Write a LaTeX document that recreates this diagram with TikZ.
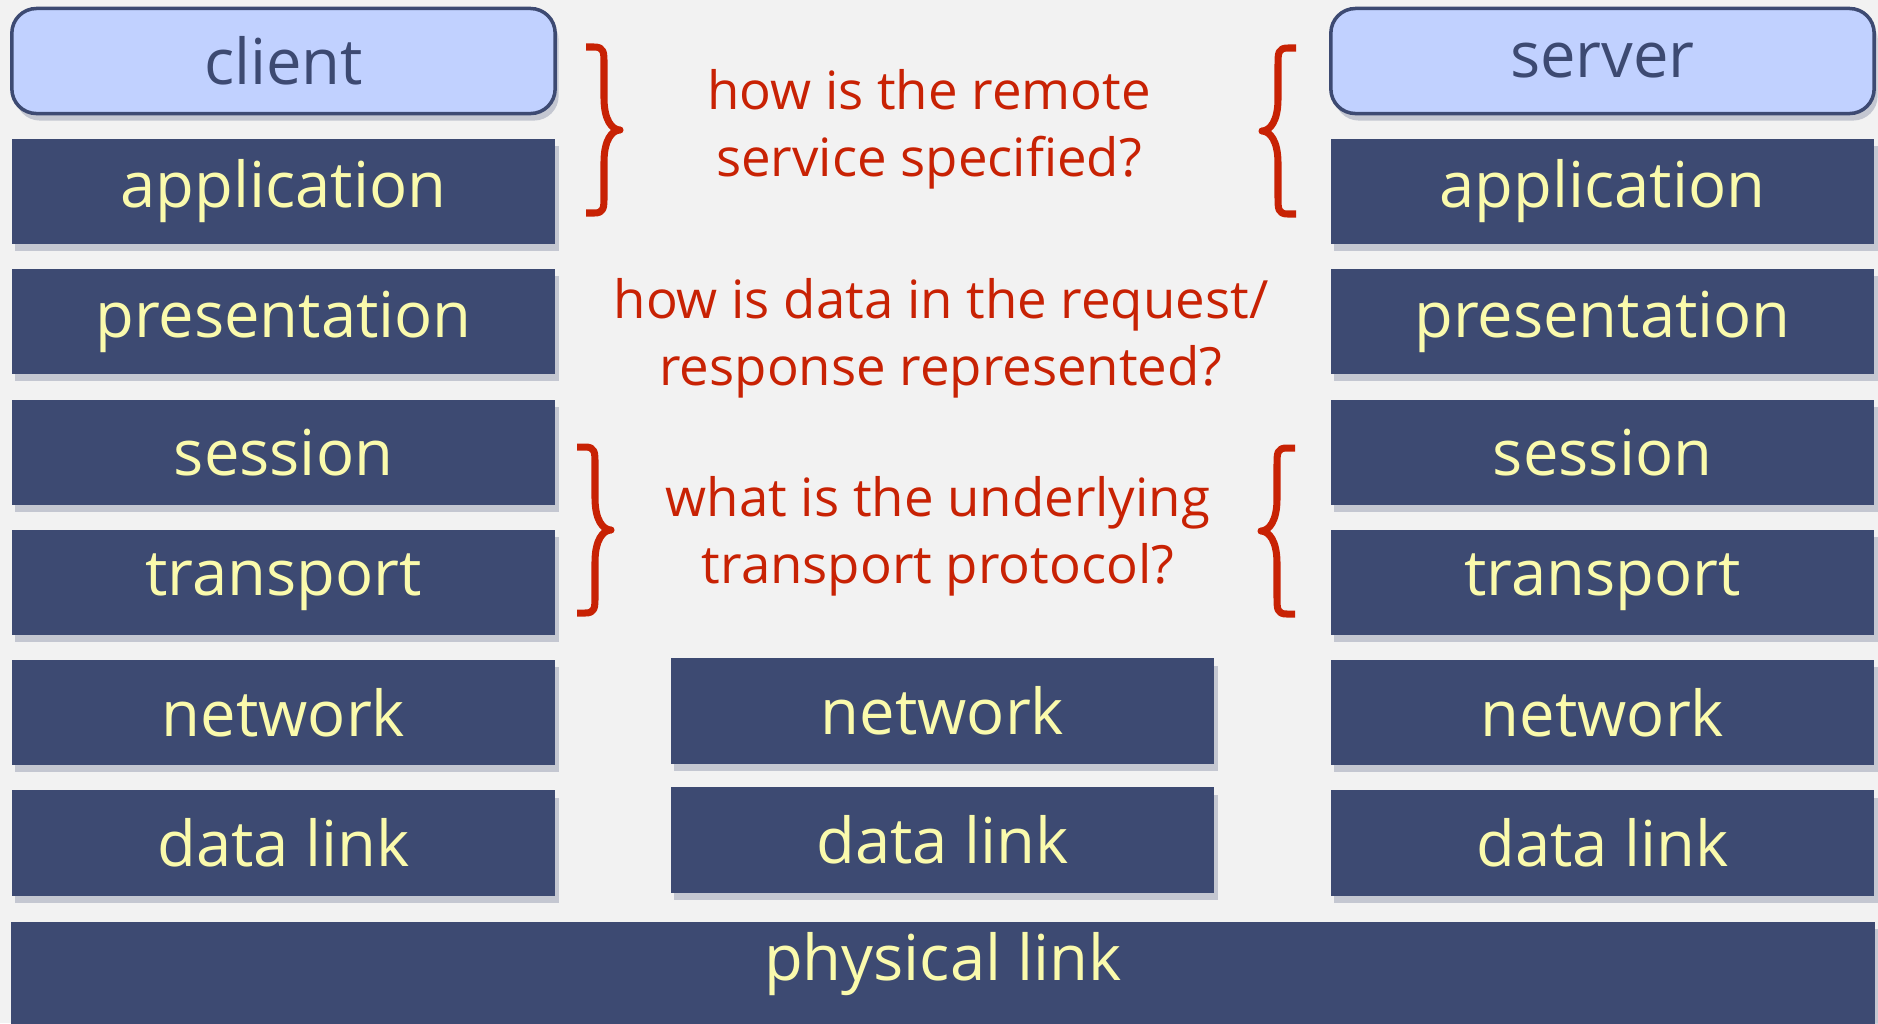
\documentclass[tikz,border=0pt]{standalone}
\usepackage{fontspec}
\setmainfont{Open Sans}
\usetikzlibrary{shadows}

\definecolor{paper}{RGB}{242,242,242}
\definecolor{layerblue}{RGB}{61,74,114}
\definecolor{layertext}{RGB}{250,250,172}
\definecolor{hostfill}{RGB}{193,209,255}
\definecolor{qred}{RGB}{200,34,4}

\tikzset{
  layer/.style={rectangle, fill=layerblue, text=layertext, minimum width=5.43cm, minimum height=1.05cm,
                font=\fontsize{18}{22}\selectfont,
                drop shadow={shadow xshift=1pt, shadow yshift=-2pt, opacity=0.25, fill=layerblue}},
  host/.style={rectangle, rounded corners=7pt, draw=layerblue, line width=1pt, fill=hostfill, text=layerblue,
               minimum width=5.43cm, minimum height=1.05cm, font=\fontsize{18}{22}\selectfont,
               drop shadow={shadow xshift=1pt, shadow yshift=-2pt, opacity=0.25, fill=layerblue}},
  question/.style={align=center, text=qred, font=\fontsize{15}{19}\selectfont},
  curly/.pic={
    \draw[qred, line width=2pt, line join=round] (0,-83) -- (8,-83) .. controls (18,-83) and (18,-78) .. (18,-66)
        -- (18,-32) .. controls (18,-10) and (26,0) .. (34,0) .. controls (26,0) and (18,10) .. (18,32)
        -- (18,66) .. controls (18,78) and (18,83) .. (8,83) -- (0,83);
  }
}

\begin{document}
\begin{tikzpicture}[x=0.01cm,y=-0.01cm]
        % Page background
        \fill[paper] (0,0) rectangle (1878,1023);
        \useasboundingbox (0,0) rectangle (1878,1023);

        % Client and server
        \node[host] (client) at (283.5,61) {client};
        \node[host] (server) at (1602.5,61) {server};

        % Protocol stacks of the two end hosts
        \foreach \name/\lbl [count=\i from 0] in {app/application,pres/presentation,sess/session,trans/transport,net/network,link/data link}
        {
            \node[layer] (c-\name) at (283.5,191.5+130.3*\i) {\lbl};
            \node[layer] (s-\name) at (1602.5,191.5+130.3*\i) {\lbl};
        }

        % Intermediate node (network and data link only)
        \node[layer] (r-net) at (942.5,711) {network};
        \node[layer] (r-link) at (942.5,840) {data link};

        % Shared physical link
        \node[layer, minimum width=18.62cm, minimum height=1.06cm, text height=13pt, text depth=10pt] (phys) at (943,975) {physical link};

        % Questions between the stacks
        \node[question] (q-app) at (929,129) {how is the remote\\service specified?};
        \node[question] (q-pres) at (941,338) {how is data in the request/\\response represented?};
        \node[question] (q-trans) at (938,536) {what is the underlying\\transport protocol?};

        % Braces grouping the layers
        \pic at (586,130) {curly};
        \pic[xscale=-1] at (1296,131) {curly};
        \pic at (577,530) {curly};
        \pic[xscale=-1] at (1295,531) {curly};

    \end{tikzpicture}
\end{document}
